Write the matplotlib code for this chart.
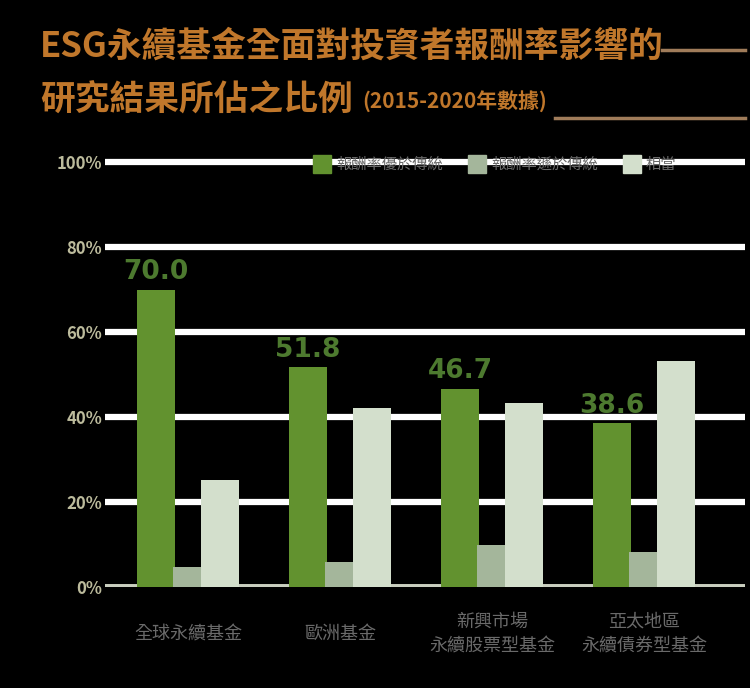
import matplotlib
matplotlib.use("Agg")
import matplotlib.pyplot as plt
from matplotlib.patches import Rectangle
from matplotlib.lines import Line2D

plt.rcParams['font.family'] = ['Noto Sans CJK TC', 'DejaVu Sans']

# data
groups = ['全球永續基金', '歐洲基金', '新興市場\n永續股票型基金', '亞太地區\n永續債券型基金']
series_names = ['報酬率優於傳統', '報酬率遜於傳統', '相當']
positive = [70.0, 51.8, 46.7, 38.6]
negative = [4.8, 6.0, 10.0, 8.3]
neutral = [25.2, 42.2, 43.3, 53.1]
yticks = [0, 20, 40, 60, 80, 100]

colors = ['#62922f', '#a4b69b', '#d3dfcc']

W, H = 750, 688
fig = plt.figure(figsize=(7.5, 6.88), dpi=100, facecolor='black')

# axes placed in pixel terms
ax = fig.add_axes([105 / W, 101 / H, 640 / W, 437 / H])
ax.set_facecolor('black')
ax.set_ylim(0, 437 / 4.25)
ax.set_xlim(-0.546, 3.664)

x = range(len(groups))
ax.bar([i - 0.21 for i in x], positive, width=0.25, color=colors[0], zorder=3)
ax.bar([i + 0.0 for i in x], negative, width=0.2, color=colors[1], zorder=3)
ax.bar([i + 0.21 for i in x], neutral, width=0.25, color=colors[2], zorder=4)

for i, v in enumerate(positive):
    ax.text(i - 0.21, v + 1.0, f"{v:.1f}", ha='center', va='bottom',
            color='#4d7a2f', fontsize=19, fontweight='bold',
            family='DejaVu Sans', zorder=5)

# grid + baseline
for t in yticks[1:]:
    ax.axhline(t, color='white', lw=4.5, zorder=1)
ax.axhline(0, color='#c9cebf', lw=5, zorder=2)

ax.set_yticks(yticks)
ax.set_yticklabels([f"{t}%" for t in yticks], color='#bcbb9c',
                   fontsize=12, fontweight='bold')
ax.tick_params(axis='y', length=0, pad=2)
ax.set_xticks([])
for s in ax.spines.values():
    s.set_visible(False)

# category labels
for i, g in enumerate(groups):
    ax.annotate(g, xy=(i, 0), xycoords=('data', 'axes fraction'),
                xytext=(0, -34), textcoords='offset points',
                ha='center', va='center', multialignment='center',
                color='#6a6a6a', fontsize=13, linespacing=1.5)

# legend (manual)
for i, (name, col) in enumerate(zip(series_names, colors)):
    x0 = 313 + 155 * i
    fig.add_artist(Rectangle((x0 / W, (H - 173) / H), 18 / W, 18 / H,
                             transform=fig.transFigure, color=col))
    fig.text((x0 + 23) / W, (H - 164) / H, name, ha='left', va='center',
             color='#6a6a6a', fontsize=11)

# title
fig.text(40 / W, (H - 46) / H, 'ESG永續基金全面對投資者報酬率影響的',
         ha='left', va='center', color='#c0772b', fontsize=25,
         fontweight='bold')
fig.text(40 / W, (H - 100) / H, '研究結果所佔之比例', ha='left', va='center',
         color='#c0772b', fontsize=25, fontweight='bold')
fig.text(362 / W, (H - 102) / H, '(2015-2020年數據)', ha='left', va='center',
         color='#c0772b', fontsize=15, fontweight='bold')
fig.add_artist(Line2D([662 / W, 745 / W], [(H - 50) / H] * 2,
                      transform=fig.transFigure, color='#a07c5a', lw=2.5))
fig.add_artist(Line2D([555 / W, 745 / W], [(H - 118) / H] * 2,
                      transform=fig.transFigure, color='#a07c5a', lw=2.5))

fig.savefig('out.png', dpi=100, facecolor='black')
